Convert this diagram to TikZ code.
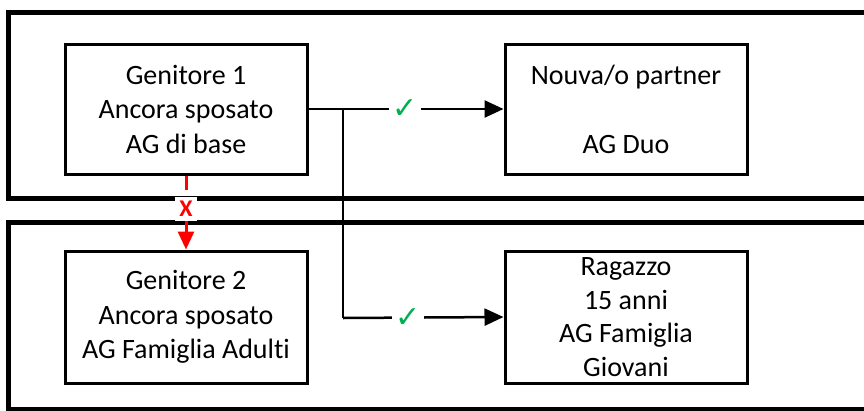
\documentclass[tikz,border=0pt]{standalone}
\usepackage{fontspec}
\setmainfont{Carlito}[Ligatures=NoCommon]
\newfontfamily\symfont{DejaVu Sans}
\usetikzlibrary{arrows.meta}
\definecolor{okgreen}{RGB}{0,176,80}
\definecolor{nored}{RGB}{255,0,0}
\begin{document}
\begin{tikzpicture}[x=1pt,y=-1pt,
  frame/.style={line width=5pt},
  box/.style={draw,line width=3pt,minimum width=242pt,minimum height=130pt,align=center,inner sep=0pt,font=\fontsize{28}{34.5}\selectfont},
  conn/.style={line width=2.5pt,-{Triangle[length=19pt,width=17pt]}},
  chk/.style={fill=white,inner sep=3pt,text=okgreen,font=\symfont\fontsize{30}{30}\selectfont},
  cross/.style={fill=white,inner xsep=4pt,inner ysep=4pt,text=nored,font=\bfseries\fontsize{24}{24}\selectfont}]
\useasboundingbox (0,0) rectangle (864,410);
\clip (0,0) rectangle (864,410);
\fill[white] (0,0) rectangle (864,410);
% frames
\draw[frame] (890,12) -- (8,12) -- (8,198) -- (890,198);
\draw[frame] (890,222) -- (8,222) -- (8,409) -- (890,409);
% boxes
\node[box] (g1) at (186,109) {Genitore 1\\Ancora sposato\\AG di base};
\node[box] (np) at (626,109) {Nouva/o partner\\[34.5pt]AG Duo};
\node[box,minimum height=132pt] (g2) at (186,317) {Genitore 2\\Ancora sposato\\AG Famiglia Adulti};
\node[box,minimum height=132pt,font=\fontsize{28}{33.5}\selectfont] (rg) at (626,317) {Ragazzo\\15 anni\\AG Famiglia\\Giovani};
% connectors
\coordinate (j) at (343,109);
\draw[conn] (g1.east) -- (np.west);
\draw[line width=2.5pt] (j) -- (343,318);
\draw[conn] (343,318) -- (rg.west);
\node[chk] (c1) at (405,109) {✓};
\node[chk] (c2) at (408,318) {✓};
% red dashed arrow
\draw[nored,line width=3pt,dash pattern=on 14pt off 8pt,-{Triangle[length=18pt,width=16pt]}] (g1.south) -- (g2.north);
\node[cross] (x) at (186,209) {X};
\end{tikzpicture}
\end{document}
